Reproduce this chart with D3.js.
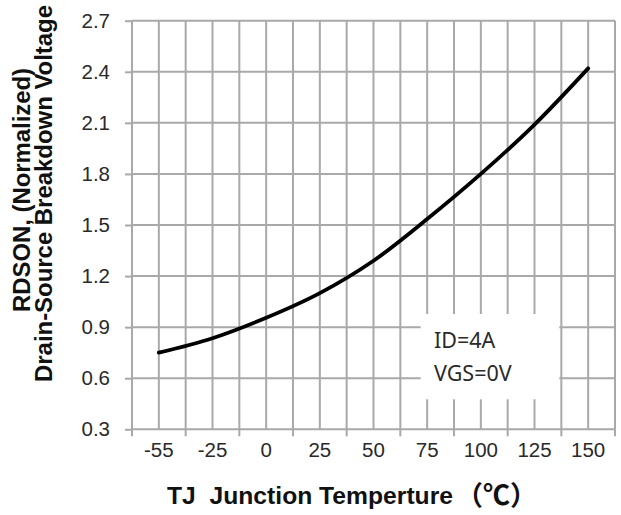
<!DOCTYPE html>
<html>
<head>
<meta charset="utf-8">
<script src="https://cdn.jsdelivr.net/npm/d3@7"></script>
<style>
  body { margin: 0; background: #fff; }
  svg { display: block; }
</style>
</head>
<body>
<div id="chart"></div>
<script>

var categories = ["-55", "-25", "0", "25", "50", "75", "100", "125", "150"];
var rdson = [0.75, 0.835, 0.955, 1.10, 1.29, 1.535, 1.80, 2.09, 2.42];
var yTicks = [0.3, 0.6, 0.9, 1.2, 1.5, 1.8, 2.1, 2.4, 2.7];
var noteLines = ["ID=4A", "VGS=0V"];

var margin = {top: 20.7, right: 6, bottom: 85.7, left: 132},
    width = 621 - margin.left - margin.right,
    height = 515 - margin.top - margin.bottom;

var gridColor = "#a9a9a9";

var svg = d3.select("#chart")
    .append("svg")
    .attr("width", 621)
    .attr("height", 515);

var g = svg.append("g")
    .attr("transform", "translate(" + margin.left + "," + margin.top + ")");

var x = d3.scaleBand()
    .domain(categories)
    .range([0, width])
    .padding(0);
var bw = x.bandwidth();

var y = d3.scaleLinear()
    .domain([0.3, 2.7])
    .range([height, 0]);

// horizontal grid
g.selectAll(".hgrid")
    .data(yTicks)
    .enter()
    .append("line")
    .attr("x1", 0)
    .attr("x2", width)
    .attr("y1", function(d) { return y(d); })
    .attr("y2", function(d) { return y(d); })
    .attr("stroke", gridColor)
    .attr("stroke-width", 2);

// vertical grid: band edges and band centres
var vx = [];
categories.forEach(function(c) { vx.push(x(c)); vx.push(x(c) + bw / 2); });
vx.push(width);
g.selectAll(".vgrid")
    .data(vx)
    .enter()
    .append("line")
    .attr("x1", function(d) { return d; })
    .attr("x2", function(d) { return d; })
    .attr("y1", 0)
    .attr("y2", height)
    .attr("stroke", gridColor)
    .attr("stroke-width", 2);

// x axis: labels at band centres, ticks at band edges
var xAxis = g.append("g")
    .attr("transform", "translate(0," + height + ")")
    .call(d3.axisBottom(x).tickSize(0).tickPadding(13));
xAxis.select(".domain").remove();
xAxis.selectAll("text")
    .style("font-family", "'Liberation Sans', Arial, sans-serif")
    .style("font-size", "20.5px")
    .attr("fill", "#2a2a2a");

var edges = categories.map(function(c) { return x(c); }).concat([width]);
g.selectAll(".xtick")
    .data(edges)
    .enter()
    .append("line")
    .attr("x1", function(d) { return d; })
    .attr("x2", function(d) { return d; })
    .attr("y1", height)
    .attr("y2", height + 7)
    .attr("stroke", gridColor)
    .attr("stroke-width", 2);

// y axis
var yAxis = g.append("g")
    .call(d3.axisLeft(y).tickValues(yTicks).tickFormat(d3.format(".1f"))
        .tickSize(7).tickPadding(15));
yAxis.select(".domain").remove();
yAxis.selectAll("line")
    .attr("stroke", gridColor)
    .attr("stroke-width", 2);
yAxis.selectAll("text")
    .style("font-family", "'Liberation Sans', Arial, sans-serif")
    .style("font-size", "20.5px")
    .attr("fill", "#2a2a2a");

// annotation box
g.append("rect")
    .attr("x", 420.7 - margin.left)
    .attr("y", 314 - margin.top)
    .attr("width", 138.6)
    .attr("height", 85.3)
    .attr("fill", "#fff");

g.selectAll(".note")
    .data(noteLines)
    .enter()
    .append("text")
    .attr("x", 434 - margin.left)
    .attr("y", function(d, i) { return 348.3 - margin.top + i * 32.7; })
    .style("font-family", "'Noto Sans', 'Open Sans', sans-serif")
    .style("font-size", "21.5px")
    .attr("fill", "#2a2a2a")
    .text(function(d) { return d; });

// curve
var line = d3.line()
    .x(function(d, i) { return x(categories[i]) + bw / 2; })
    .y(function(d) { return y(d); })
    .curve(d3.curveCatmullRom.alpha(0.5));

g.append("path")
    .datum(rdson)
    .attr("d", line)
    .attr("fill", "none")
    .attr("stroke", "#000")
    .attr("stroke-width", 3.8)
    .attr("stroke-linecap", "round");

// y title
var yTitle = svg.append("g")
    .style("font-family", "'Liberation Sans', Arial, sans-serif")
    .style("font-weight", "bold")
    .style("font-size", "23px")
    .attr("fill", "#111");
yTitle.append("text")
    .attr("transform", "translate(30,190) rotate(-90)")
    .attr("text-anchor", "middle")
    .attr("textLength", 244)
    .attr("lengthAdjust", "spacingAndGlyphs")
    .text("RDSON, (Normalized)");
yTitle.append("text")
    .attr("transform", "translate(51.5,193.5) rotate(-90)")
    .attr("text-anchor", "middle")
    .attr("textLength", 377)
    .attr("lengthAdjust", "spacingAndGlyphs")
    .text("Drain-Source Breakdown Voltage");

// x title
var xTitle = svg.append("g")
    .attr("fill", "#111")
    .style("font-weight", "bold");
xTitle.append("text")
    .attr("x", 167)
    .attr("y", 504)
    .attr("textLength", 286)
    .attr("lengthAdjust", "spacingAndGlyphs")
    .style("font-family", "'Liberation Sans', Arial, sans-serif")
    .style("font-size", "24px")
    .style("white-space", "pre")
    .text("TJ  Junction Temperture");
xTitle.append("text")
    .attr("x", 456)
    .attr("y", 505)
    .style("font-family", "'Noto Sans CJK SC', sans-serif")
    .style("font-size", "27px")
    .text("（℃）");

</script>
</body>
</html>
